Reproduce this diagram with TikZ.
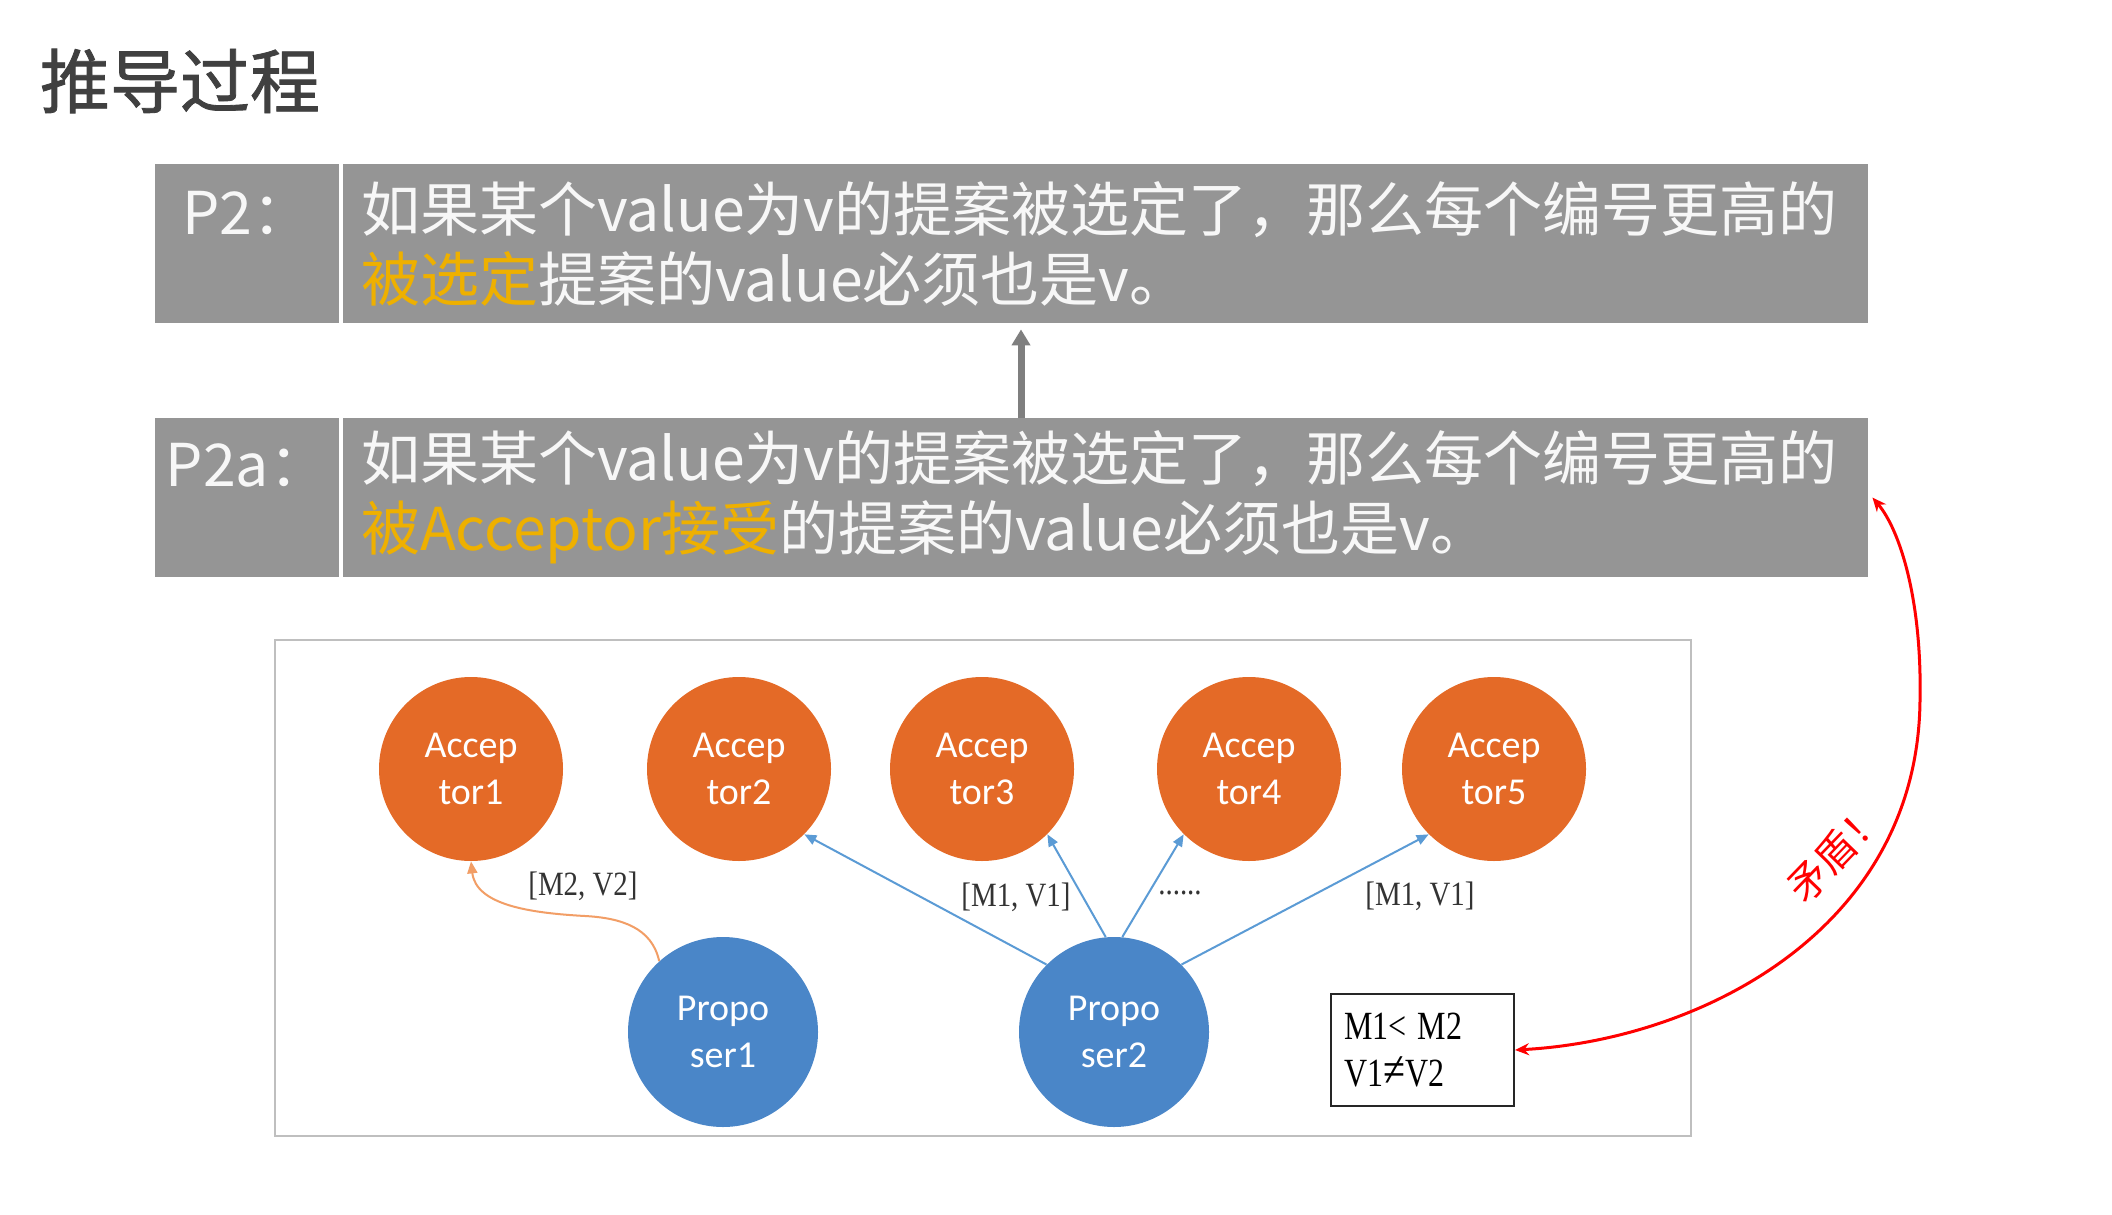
\documentclass[tikz,border=0pt]{standalone}
\usepackage{fontspec}
\setmainfont{Carlito}
\newfontfamily\cjk{Noto Sans CJK SC}
\newfontfamily\cjktitle[FakeBold=1.2]{Noto Sans CJK SC}
\newfontfamily\lblfont[FakeStretch=0.85]{Liberation Serif}
\newfontfamily\boxfont[FakeStretch=0.8]{Liberation Serif}
\usetikzlibrary{arrows.meta}
\definecolor{boxgray}{HTML}{959595}
\definecolor{hl}{HTML}{EEB000}
\definecolor{celltext}{HTML}{F7F7F7}
\definecolor{accorange}{HTML}{E46A27}
\definecolor{propblue}{HTML}{4A86C8}
\definecolor{edgeblue}{HTML}{5B9BD5}
\definecolor{edgeorange}{HTML}{F29E66}
\definecolor{titlegray}{HTML}{404040}
\definecolor{framegray}{HTML}{BFBFBF}
\definecolor{arrowgray}{HTML}{7F7F7F}
\definecolor{redc}{HTML}{FF0000}
\tikzset{
  cellbox/.style={fill=boxgray, draw=none, minimum height=79.5pt, inner sep=0pt},
  celltxt/.style={text=celltext, font=\cjk\fontsize{29.5}{35}\selectfont, inner sep=0pt},
  acc/.style={circle, fill=accorange, minimum size=92pt, inner sep=0pt, text=white, align=center, font=\fontsize{19}{23.5}\selectfont},
  prop/.style={circle, fill=propblue, minimum size=95pt, inner sep=0pt, text=white, align=center, font=\fontsize{19}{23.5}\selectfont},
  blueedge/.style={draw=edgeblue, line width=1pt, -{Triangle[length=6pt,width=5pt]}},
  orangeedge/.style={draw=edgeorange, line width=1pt, -{Triangle[length=6pt,width=5pt]}},
  rededge/.style={draw=redc, line width=1.5pt, {Stealth[length=7pt,width=6pt]}-{Stealth[length=7pt,width=6pt]}},
  edgelbl/.style={font=\lblfont\fontsize{17}{20}\selectfont, text=black!80, inner sep=0pt}
}
\begin{document}
\begin{tikzpicture}[x=0.5pt,y=-0.5pt]
\fill[white] (0,0) rectangle (2112,1214);
\useasboundingbox (0,0) rectangle (2112,1214);

\node[font=\cjktitle\fontsize{35}{40}\selectfont, text=titlegray, inner sep=0pt] (title) at (180,81) {推导过程};

% P2 box
\node[cellbox, minimum width=92pt] (p2l) at (247,243.5) {};
\node[cellbox, minimum width=762.5pt, text width=744.5pt, align=left, text=celltext, font=\cjk\fontsize{29.5}{35}\selectfont] (p2t) at (1105.5,243.5)
  {如果某个value为v的提案被选定了，那么每个编号更高的\\{\color{hl}被选定}提案的value必须也是v。};
\node[celltxt] (p2lab) at (247,213) {P2：};

% P2a box
\node[cellbox, minimum width=92pt] (p2al) at (247,497.5) {};
\node[cellbox, minimum width=762.5pt, text width=744.5pt, align=left, text=celltext, font=\cjk\fontsize{29.5}{35}\selectfont] (p2at) at (1105.5,497.5)
  {如果某个value为v的提案被选定了，那么每个编号更高的\\{\color{hl}被Acceptor接受}的提案的value必须也是v。};
\node[celltxt] (p2alab) at (247,465) {P2a：};

\coordinate (ax) at (1021,0);
\draw[draw=arrowgray, line width=3.5pt, -{Triangle[length=8pt,width=9pt]}] (p2at.north -| ax) -- ([yshift=-3pt]p2t.south -| ax);

% frame
\node[draw=framegray, line width=1pt, minimum width=708pt, minimum height=248pt, inner sep=0pt] (frame) at (983,888) {};

% acceptors
\node[acc] (a1) at (471,769) {Accep\\tor1};
\node[acc] (a2) at (739,769) {Accep\\tor2};
\node[acc] (a3) at (982,769) {Accep\\tor3};
\node[acc] (a4) at (1249,769) {Accep\\tor4};
\node[acc] (a5) at (1494,769) {Accep\\tor5};

% proposers
\node[prop] (p1) at (723,1032) {Propo\\ser1};
\node[prop] (p2) at (1114,1032) {Propo\\ser2};

% conclusion box
\node[draw=black!85, line width=1pt, minimum width=91.5pt, minimum height=56pt, text width=78.5pt, inner xsep=6.5pt, inner ysep=0pt, align=left, font=\boxfont\fontsize{20}{23.5}\selectfont] (m) at (1422.5,1050) {M1<\;M2\\V1{\fontsize{25}{23.5}\selectfont ≠}V2};

% edges
\draw[orangeedge] (p1.132) .. controls (652,928) and (622,918) .. (585,916) .. controls (530,913) and (476,905) .. (a1.south);
\draw[blueedge] (p2.135) -- (a2.-45);
\draw[blueedge] (p2.95) -- (a3.-45);
\draw[blueedge] (p2.85) -- (a4.-135);
\draw[blueedge] (p2.45) -- (a5.-135);

\node[edgelbl] (l1) at (583,886) {[M2, V2]};
\node[edgelbl] (l2) at (1016,897) {[M1, V1]};
\node[edgelbl] (l3) at (1180,893) {......};
\node[edgelbl] (l4) at (1420,896) {[M1, V1]};

% contradiction
\draw[rededge] (m.east) .. controls (1700,1040) and (1918,930) .. (1920,700) .. controls (1922,600) and (1900,530) .. ([xshift=2pt]p2at.east);
\node[text=redc, rotate=46, font=\cjk\fontsize{20}{24}\selectfont, inner sep=0pt] (maodun) at (1836,852) {矛盾！};
\end{tikzpicture}
\end{document}
